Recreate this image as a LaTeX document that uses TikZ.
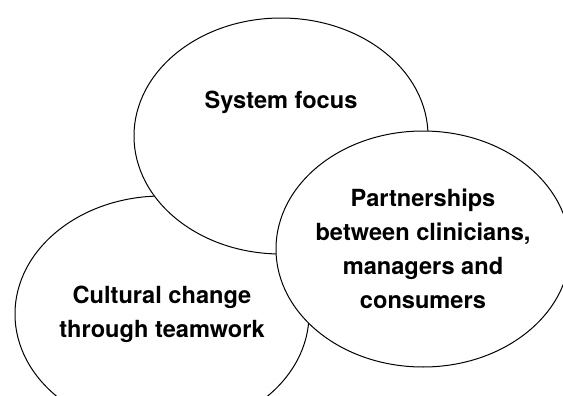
\documentclass[tikz,border=0pt]{standalone}
\usepackage{fontspec}
\setmainfont{TeX Gyre Heros}
\usetikzlibrary{shapes.geometric}

\begin{document}
\begin{tikzpicture}[x=0.5pt,y=-0.5pt,
    blob/.style={ellipse,draw,fill=white,line width=0.5pt,minimum width=147pt,minimum height=118pt,inner sep=0pt},
    txt/.style={align=center,font=\fontsize{11.8}{17}\selectfont\bfseries,inner sep=0pt}]
    \useasboundingbox (0,0) rectangle (563,396);

    % back to front
    \node[blob] (cult) at (162,314) {};
    \node[blob] (sys) at (281,136) {};
    \node[blob] (part) at (423,249) {};

    \node[txt] (sysl) at (281,102) {System focus};
    \node[txt] (cultl) at (cult) {Cultural change\\through teamwork};
    \node[txt] (partl) at (part) {Partnerships\\between clinicians,\\managers and\\consumers};
\end{tikzpicture}
\end{document}
